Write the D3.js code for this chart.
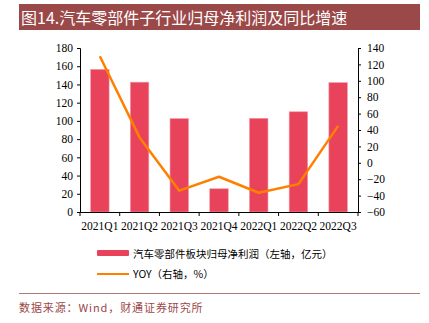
<!DOCTYPE html>
<html><head><meta charset="utf-8">
<script src="https://cdn.jsdelivr.net/npm/d3@7"></script>
<style>body{margin:0;background:#fff}svg{display:block}</style>
</head><body>
<script>
const categories = ["2021Q1","2021Q2","2021Q3","2021Q4","2022Q1","2022Q2","2022Q3"];
const profit = [156.5, 142.5, 102.5, 25.5, 102.8, 110, 142];
const yoy = [130, 31, -34, -17, -36.5, -26, 45];
const leftTicks = [0,20,40,60,80,100,120,140,160,180];
const rightTicks = [-60,-40,-20,0,20,40,60,80,100,120,140];
const title = "图14.汽车零部件子行业归母净利润及同比增速";
const legendBar = "汽车零部件板块归母净利润（左轴，亿元）";
const legendLine = "YOY（右轴，%）";
const source = "数据来源：Wind，财通证券研究所";

const W=429,H=323;
const svg=d3.select("body").append("svg").attr("width",W).attr("height",H);
const serif="'Liberation Serif','Times New Roman',serif";
const cjk="'Noto Sans CJK SC',sans-serif";
const red="#9b4848";

svg.append("rect").attr("x",19).attr("y",4).attr("width",401).attr("height",26).attr("fill",red);
svg.append("text").attr("x",21).attr("y",23.5).attr("fill","#fff").style("font-size","16px").style("font-family",cjk).text(title);

const x=d3.scaleBand().domain(categories).range([80,358]);
const yL=d3.scaleLinear().domain([0,180]).range([212,48]);
const yR=d3.scaleLinear().domain([-60,140]).range([212,48]);

const bw=18.5;
svg.append("g").selectAll("rect").data(profit).join("rect")
 .attr("x",(d,i)=>x(categories[i])+x.bandwidth()/2-bw/2)
 .attr("y",d=>yL(d)).attr("width",bw).attr("height",d=>yL(0)-yL(d))
 .attr("fill","#e8435a").attr("stroke","#f29aa6").attr("stroke-width",0.6);

const line=d3.line().x((d,i)=>x(categories[i])+x.bandwidth()/2).y(d=>yR(d));
svg.append("path").datum(yoy).attr("d",line).attr("fill","none").attr("stroke","#ff8000").attr("stroke-width",2.5).attr("stroke-linejoin","round");

const gl=svg.append("g").attr("transform","translate(80,0)").call(d3.axisLeft(yL).tickValues(leftTicks).tickSize(3).tickPadding(4));
const gr=svg.append("g").attr("transform","translate(358,0)").call(d3.axisRight(yR).tickValues(rightTicks).tickSize(3).tickPadding(6));
const gx=svg.append("g").attr("transform","translate(0,212)").call(d3.axisBottom(x).tickSize(0).tickPadding(10));
svg.append("g").selectAll("line").data(d3.range(categories.length+1)).join("line")
 .attr("x1",i=>80+i*x.step()).attr("x2",i=>80+i*x.step()).attr("y1",212).attr("y2",216).attr("stroke","#000");
[gl,gr,gx].forEach(g=>{g.attr("font-family",null).attr("font-size",null);
 g.selectAll("text").style("font-family",serif).style("font-size","11.5px").attr("fill","#000");
 g.selectAll("path,line").attr("stroke","#000");});

svg.append("rect").attr("x",97).attr("y",250).attr("width",32).attr("height",6).attr("rx",1).attr("fill","#e8435a");
svg.append("text").attr("x",133).attr("y",257.5).style("font-size","10.5px").style("font-family",cjk).text(legendBar);
svg.append("line").attr("x1",97).attr("x2",129).attr("y1",274).attr("y2",274).attr("stroke","#ff8000").attr("stroke-width",2);
svg.append("text").attr("x",133).attr("y",278).style("font-size","10.5px").style("font-family",cjk).text(legendLine);

svg.append("line").attr("x1",19).attr("x2",420).attr("y1",293.5).attr("y2",293.5).attr("stroke","#b07878").attr("stroke-width",1);
svg.append("text").attr("x",19).attr("y",312).style("font-size","11px").style("letter-spacing","0.9px").attr("fill",red).style("font-family",cjk).text(source);
</script>
</body></html>
